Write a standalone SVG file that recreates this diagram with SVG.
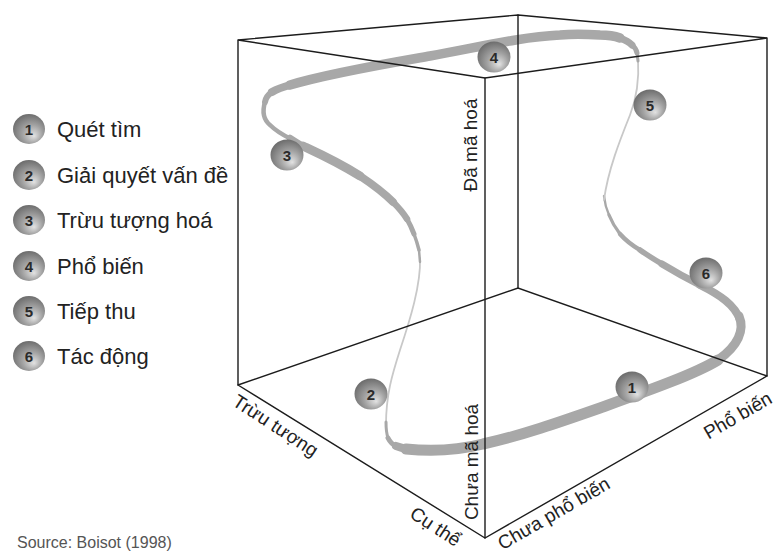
<svg xmlns="http://www.w3.org/2000/svg" width="775" height="553" viewBox="0 0 775 553">
<defs>
<radialGradient id="ballGrad" cx="0.55" cy="0.6" r="0.62" fx="0.66" fy="0.74">
<stop offset="0" stop-color="#e2e2e2"/>
<stop offset="0.5" stop-color="#a2a2a2"/>
<stop offset="1" stop-color="#6a6a6a"/>
</radialGradient>
</defs>
<style>
.edge{stroke:#1c1c1c;stroke-width:1.4;fill:none;stroke-linecap:round}
.rib{fill:none;stroke:#a8a8a8;stroke-linecap:round;stroke-linejoin:round}
.thin{fill:none;stroke:#c8c8c8;stroke-width:1.8;stroke-linecap:round}
.ball{fill:url(#ballGrad)}
.num{font-family:"Liberation Sans",Arial,sans-serif;font-size:15px;font-weight:bold;fill:#2a2a2a;text-anchor:middle}
.leg{font-family:"Liberation Sans",Arial,sans-serif;font-size:22px;fill:#222}
.axis{font-family:"Liberation Sans",Arial,sans-serif;font-size:19px;fill:#222;text-anchor:middle}
.src{font-family:"Liberation Sans",Arial,sans-serif;font-size:16px;fill:#555}
</style>
<rect width="775" height="553" fill="#fff"/>

<g id="ribbon">
<!-- left descent to bottom -->
<path class="thin" d="M420,258 C421,285 410,320 400,350 C392,375 386,395 386,425"/>
<path class="rib" stroke-width="3" d="M386,422 Q386,432 388,438"/>
<path class="rib" stroke-width="5" d="M388,438 Q391,444 396,446"/>
<path class="rib" stroke-width="8" d="M396,446 Q401,448 408,449"/>
<path class="rib" stroke-width="11" d="M406,449 C425,451 455,451 483,444 C520,436 560,422 600,408 C650,390 695,374 718,360"/>
<path class="rib" stroke-width="9" d="M718,360 C738,346 745,330 739,316"/>
<!-- right ascent -->
<path class="rib" stroke-width="8" d="M740,320 C735,305 720,295 700,285"/>
<path class="rib" stroke-width="7" d="M700,285 Q680,275 662,264"/>
<path class="rib" stroke-width="5.5" d="M662,264 Q650,257 640,250"/>
<path class="rib" stroke-width="4.5" d="M640,250 Q628,243 620,234"/>
<path class="rib" stroke-width="3.3" d="M620,234 Q613,225 609,215"/>
<path class="rib" stroke-width="2.4" d="M609,215 Q605,206 604,196"/>
<path class="thin" d="M604,200 C608,170 620,140 630,115 C638,95 639,75 638,58"/>
<!-- top band -->
<path class="rib" stroke-width="3" d="M638,61 L637,53"/>
<path class="rib" stroke-width="5" d="M637,53 Q636,48 632,45"/>
<path class="rib" stroke-width="7" d="M632,45 Q628,41 620,38"/>
<path class="rib" stroke-width="9.5" d="M620,38 Q612,35 600,35 C585,34 570,34 560,35 C520,37 480,47 430,56 C390,63 330,73 290,85"/>
<path class="rib" stroke-width="8" d="M290,85 Q279,88 272,92"/>
<path class="rib" stroke-width="6" d="M272,92 Q266,96 265,102"/>
<path class="rib" stroke-width="4.5" d="M265,102 C262,112 264,120 270,125 C276,131 283,135 291,139"/>
<path class="rib" stroke-width="6.5" d="M290,138 Q296,142 303,146"/>
<path class="rib" stroke-width="9" d="M303,146 C318,153 338,162 360,176"/>
<path class="rib" stroke-width="8" d="M360,176 C372,184 383,192 393,202"/>
<path class="rib" stroke-width="6.5" d="M393,202 Q402,211 407,219"/>
<path class="rib" stroke-width="5" d="M407,219 Q411,226 414,234"/>
<path class="rib" stroke-width="3.5" d="M414,234 Q417,242 419,250"/>
<path class="rib" stroke-width="2.5" d="M419,250 L420,262"/>
</g>

<g id="cube">
<path class="edge" d="M238,40 L518,15 L767,38 L485,78 Z"/>
<path class="edge" d="M238,40 V385 M485,78 V538 M767,38 V376 M518,15 V288"/>
<path class="edge" d="M238,385 L485,538 L767,376 M238,385 L518,288 L767,376"/>
</g>

<g id="node-4"><ellipse class="ball" cx="494" cy="57" rx="16.5" ry="15.5"/><text class="num" x="494" y="62.5">4</text></g>
<g id="node-5"><ellipse class="ball" cx="650" cy="105" rx="16.5" ry="15.5"/><text class="num" x="650" y="110.5">5</text></g>
<g id="node-3"><ellipse class="ball" cx="287" cy="155" rx="16.5" ry="15.5"/><text class="num" x="287" y="160.5">3</text></g>
<g id="node-6"><ellipse class="ball" cx="706" cy="273" rx="16.5" ry="15.5"/><text class="num" x="706" y="278.5">6</text></g>
<g id="node-2"><ellipse class="ball" cx="371" cy="394" rx="16.5" ry="15.5"/><text class="num" x="371" y="399.5">2</text></g>
<g id="node-1"><ellipse class="ball" cx="632" cy="387" rx="16.5" ry="15.5"/><text class="num" x="632" y="392.5">1</text></g>

<g id="axis-labels">
<text class="axis" transform="translate(477,145) rotate(-90)">Đã mã hoá</text>
<text class="axis" transform="translate(478,462) rotate(-90)">Chưa mã hoá</text>
<text class="axis" transform="translate(272,431) rotate(33)">Trừu tượng</text>
<text class="axis" transform="translate(432,532) rotate(33)">Cụ thể</text>
<text class="axis" transform="translate(557,519) rotate(-30)">Chưa phổ biến</text>
<text class="axis" transform="translate(741,421) rotate(-30)">Phổ biến</text>
</g>

<g id="legend">
<g id="legend-1"><ellipse class="ball" cx="29" cy="129" rx="16" ry="15"/><text class="num" x="29" y="134.5">1</text><text class="leg" x="57" y="137">Quét tìm</text></g>
<g id="legend-2"><ellipse class="ball" cx="29" cy="175" rx="16" ry="15"/><text class="num" x="29" y="180.5">2</text><text class="leg" x="57" y="183">Giải quyết vấn đề</text></g>
<g id="legend-3"><ellipse class="ball" cx="29" cy="220" rx="16" ry="15"/><text class="num" x="29" y="225.5">3</text><text class="leg" x="57" y="228">Trừu tượng hoá</text></g>
<g id="legend-4"><ellipse class="ball" cx="29" cy="266" rx="16" ry="15"/><text class="num" x="29" y="271.5">4</text><text class="leg" x="57" y="274">Phổ biến</text></g>
<g id="legend-5"><ellipse class="ball" cx="29" cy="311" rx="16" ry="15"/><text class="num" x="29" y="316.5">5</text><text class="leg" x="57" y="319">Tiếp thu</text></g>
<g id="legend-6"><ellipse class="ball" cx="29" cy="356" rx="16" ry="15"/><text class="num" x="29" y="361.5">6</text><text class="leg" x="57" y="364">Tác động</text></g>
</g>

<text class="src" x="17" y="548">Source: Boisot (1998)</text>
</svg>
